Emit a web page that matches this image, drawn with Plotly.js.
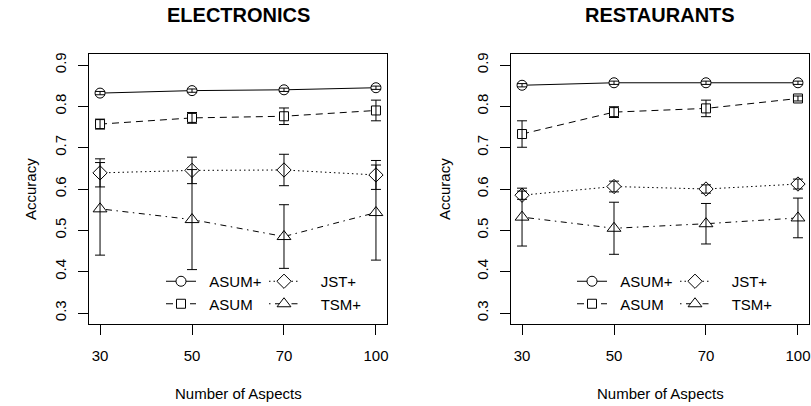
<!DOCTYPE html>
<html>
<head>
<meta charset="utf-8">
<script src="https://cdn.plot.ly/plotly-3.0.1.min.js"></script>
<style>html,body{margin:0;padding:0;background:#fff}#chart{width:811px;height:406px}</style>
</head>
<body>
<div id="chart"></div>
<script>
// ---- data ----
const categories = ["30", "50", "70", "100"];
const seriesNames = ["ASUM+", "ASUM", "JST+", "TSM+"];

const elecAsumPlus    = [0.832, 0.838, 0.840, 0.845];
const elecAsumPlusErr = [0.004, 0.004, 0.004, 0.004];
const elecAsum        = [0.757, 0.772, 0.776, 0.790];
const elecAsumErr     = [0.012, 0.013, 0.020, 0.025];
const elecJst         = [0.639, 0.645, 0.646, 0.634];
const elecJstErr      = [0.034, 0.032, 0.038, 0.035];
const elecTsm         = [0.552, 0.526, 0.485, 0.543];
const elecTsmErr      = [0.112, 0.121, 0.077, 0.115];

const restAsumPlus    = [0.851, 0.857, 0.857, 0.857];
const restAsumPlusErr = [0.004, 0.004, 0.004, 0.004];
const restAsum        = [0.733, 0.786, 0.795, 0.819];
const restAsumErr     = [0.032, 0.013, 0.020, 0.006];
const restJst         = [0.585, 0.606, 0.600, 0.612];
const restJstErr      = [0.010, 0.013, 0.010, 0.012];
const restTsm         = [0.532, 0.505, 0.516, 0.530];
const restTsmErr      = [0.070, 0.063, 0.049, 0.048];

const yTicks = [0.3, 0.4, 0.5, 0.6, 0.7, 0.8, 0.9];
const yTickText = ["0.3", "0.4", "0.5", "0.6", "0.7", "0.8", "0.9"];

// ---- styles ----
const FONT = "Liberation Sans, Arial, Helvetica, sans-serif";
const styles = [
  {symbol: "circle", size: 10, dash: "solid"},
  {symbol: "square", size: 9, dash: "7px,5px"},
  {symbol: "diamond", size: 11, dash: "1.5px,3px"},
  {symbol: "triangle-up", size: 12, dash: "1.5px,4.5px,6px,4.5px"}
];
const namePad = ["\u00a0\u00a0", "\u00a0\u00a0", "\u00a0\u00a0\u00a0\u00a0", "\u00a0\u00a0\u00a0\u00a0"];
const legendIds = [["legend", "legend", "legend2", "legend2"], ["legend3", "legend3", "legend4", "legend4"]];

const panels = [
  {xa: "x", ya: "y", vals: [elecAsumPlus, elecAsum, elecJst, elecTsm], errs: [elecAsumPlusErr, elecAsumErr, elecJstErr, elecTsmErr]},
  {xa: "x2", ya: "y2", vals: [restAsumPlus, restAsum, restJst, restTsm], errs: [restAsumPlusErr, restAsumErr, restJstErr, restTsmErr]}
];

const traces = [];
panels.forEach((p, pi) => {
  p.vals.forEach((v, si) => {
    const st = styles[si];
    traces.push({
      type: "scatter", mode: "lines+markers", x: categories, y: v,
      xaxis: p.xa, yaxis: p.ya, name: namePad[si] + seriesNames[si],
      legend: legendIds[pi][si],
      line: {color: "black", width: 1, dash: st.dash},
      marker: {symbol: st.symbol, size: st.size, color: "white", line: {color: "black", width: 1}},
      hoverinfo: "skip"
    });
  });
  p.vals.forEach((v, si) => {
    traces.push({
      type: "scatter", mode: "markers", x: categories, y: v,
      xaxis: p.xa, yaxis: p.ya, showlegend: false,
      marker: {size: 2, opacity: 0, color: "black"},
      error_y: {type: "data", array: p.errs[si], visible: true, color: "black", thickness: 1, width: 5},
      hoverinfo: "skip"
    });
  });
});

const W = 811, H = 406;
const px = v => v / W, py = v => 1 - v / H;

const xAxisBase = {
  type: "category", range: [-0.12, 3.12], showline: true, mirror: true, linecolor: "black", linewidth: 1,
  ticks: "outside", ticklen: 10, tickcolor: "black", tickwidth: 1, showgrid: false, zeroline: false,
  tickfont: {family: FONT, size: 15, color: "black"}, ticklabelstandoff: 8, fixedrange: true
};
const yAxisBase = {
  range: [0.2734, 0.9266], showline: true, mirror: true, linecolor: "black", linewidth: 1,
  ticks: "outside", ticklen: 10, tickcolor: "black", tickwidth: 1, showgrid: false, zeroline: false,
  tickvals: yTicks, ticktext: yTickText, tickangle: -90,
  tickfont: {family: FONT, size: 15, color: "black"}, ticklabelstandoff: 6, fixedrange: true,
  domain: [(H - 324) / H, (H - 54) / H]
};

const legBase = {orientation: "v", xanchor: "left", yanchor: "top", bgcolor: "rgba(0,0,0,0)", borderwidth: 0,
  font: {family: FONT, size: 15, color: "black"}, tracegroupgap: 0, itemwidth: 30};

const layout = {
  width: W, height: H, margin: {l: 0, r: 0, t: 0, b: 0}, paper_bgcolor: "white", plot_bgcolor: "white",
  xaxis: Object.assign({}, xAxisBase, {domain: [89 / W, 387 / W], anchor: "y"}),
  yaxis: Object.assign({}, yAxisBase, {anchor: "x"}),
  xaxis2: Object.assign({}, xAxisBase, {domain: [511 / W, 809 / W], anchor: "y2"}),
  yaxis2: Object.assign({}, yAxisBase, {anchor: "x2"}),
  legend: Object.assign({}, legBase, {x: px(161), y: py(265)}),
  legend2: Object.assign({}, legBase, {x: px(264), y: py(265)}),
  legend3: Object.assign({}, legBase, {x: px(572), y: py(265)}),
  legend4: Object.assign({}, legBase, {x: px(675), y: py(265)}),
  showlegend: true,
  annotations: [
    {text: "<b>ELECTRONICS</b>", x: px(238), y: py(15), xref: "paper", yref: "paper", showarrow: false, xanchor: "center", yanchor: "middle", font: {family: FONT, size: 20, color: "black"}},
    {text: "<b>RESTAURANTS</b>", x: px(660), y: py(15), xref: "paper", yref: "paper", showarrow: false, xanchor: "center", yanchor: "middle", font: {family: FONT, size: 20, color: "black"}},
    {text: "Number of Aspects", x: px(238), y: py(393), xref: "paper", yref: "paper", showarrow: false, xanchor: "center", yanchor: "middle", font: {family: FONT, size: 15, color: "black"}},
    {text: "Number of Aspects", x: px(660), y: py(393), xref: "paper", yref: "paper", showarrow: false, xanchor: "center", yanchor: "middle", font: {family: FONT, size: 15, color: "black"}},
    {text: "Accuracy", x: px(31), y: py(189), xref: "paper", yref: "paper", showarrow: false, textangle: -90, xanchor: "center", yanchor: "middle", font: {family: FONT, size: 15, color: "black"}},
    {text: "Accuracy", x: px(445), y: py(189), xref: "paper", yref: "paper", showarrow: false, textangle: -90, xanchor: "center", yanchor: "middle", font: {family: FONT, size: 15, color: "black"}}
  ]
};

Plotly.newPlot("chart", traces, layout, {staticPlot: true, displayModeBar: false});
</script>
</body>
</html>
